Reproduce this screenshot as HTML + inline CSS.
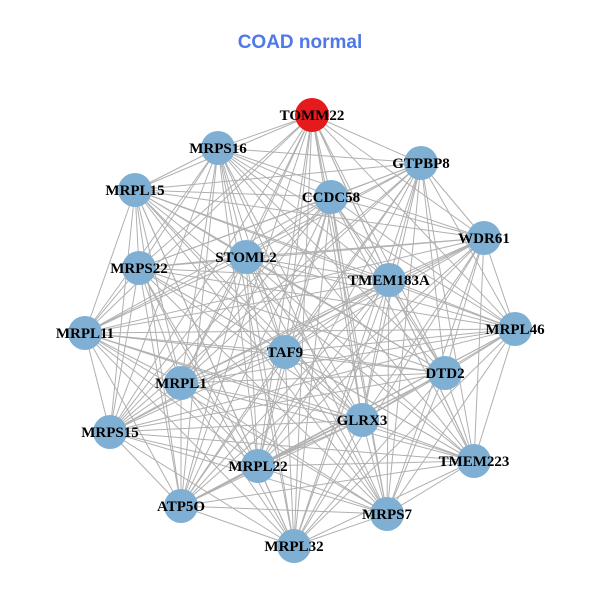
<!DOCTYPE html>
<html><head><meta charset="utf-8"><style>
html,body{margin:0;padding:0;background:#fff;}
svg{display:block}
</style></head><body>
<svg id="s" width="600" height="600" xmlns="http://www.w3.org/2000/svg">
<rect width="600" height="600" fill="#fff"/>
<text x="300" y="48" text-anchor="middle" font-family="Liberation Sans, sans-serif" font-weight="bold" font-size="19" fill="#4f78e8">COAD normal</text>
<g id="e" stroke="#b0b0b0" stroke-width="1"></g>
<g id="n"></g>
</svg>
<script>
var N=[["TOMM22",312,115],["MRPS16",218,148],["GTPBP8",421,163],["MRPL15",135,190],["CCDC58",331,197],["WDR61",484,238],["STOML2",246,257],["MRPS22",139,268],["TMEM183A",389,280],["MRPL11",85,333],["MRPL46",515,329],["TAF9",285,352],["DTD2",445,373],["MRPL1",181,383],["GLRX3",362,420],["MRPS15",110,432],["TMEM223",474,461],["MRPL22",258,466],["ATP5O",181,506],["MRPS7",387,514],["MRPL32",294,546]];
var ns="http://www.w3.org/2000/svg",e=document.getElementById("e"),g=document.getElementById("n");
for(var i=0;i<N.length;i++)for(var j=i+1;j<N.length;j++){var l=document.createElementNS(ns,"line");l.setAttribute("x1",N[i][1]);l.setAttribute("y1",N[i][2]);l.setAttribute("x2",N[j][1]);l.setAttribute("y2",N[j][2]);e.appendChild(l);}
N.forEach(function(d,k){var c=document.createElementNS(ns,"circle");c.setAttribute("cx",d[1]);c.setAttribute("cy",d[2]);c.setAttribute("r",17);c.setAttribute("fill",k==0?"#e41a1c":"#7fb0d4");g.appendChild(c);});
N.forEach(function(d){var t=document.createElementNS(ns,"text");t.setAttribute("x",d[1]);t.setAttribute("y",d[2]+5);t.setAttribute("text-anchor","middle");t.setAttribute("font-family","Liberation Serif, serif");t.setAttribute("font-weight","bold");t.setAttribute("font-size","15");t.textContent=d[0];g.appendChild(t);});
</script>
</body></html>
